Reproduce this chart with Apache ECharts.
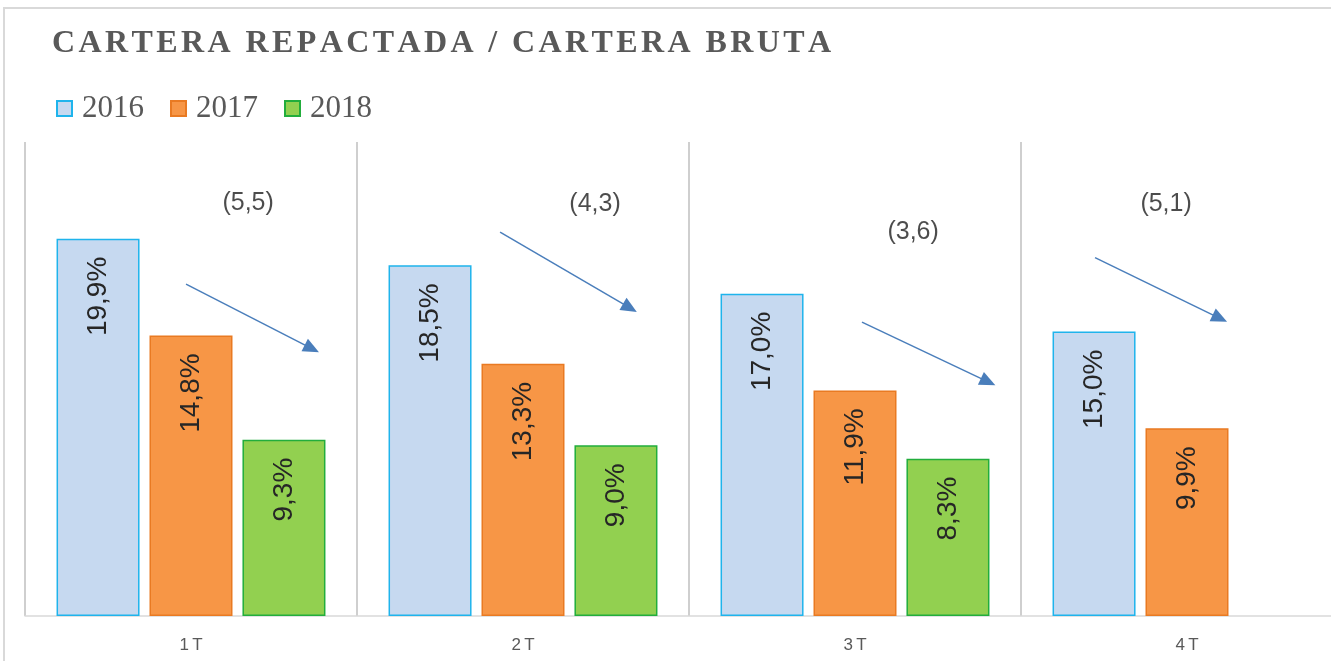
<!DOCTYPE html>
<html>
<head>
<meta charset="utf-8">
<script src="https://cdn.jsdelivr.net/npm/echarts@6/dist/echarts.min.js"></script>
<style>
  html, body { margin: 0; padding: 0; background: #fff; }
  #frame { position: absolute; left: 3px; top: 7px; width: 1340px; height: 670px;
           border-left: 2px solid #d9d9d9; border-top: 2px solid #d9d9d9; }
  #main { position: absolute; left: 0; top: 0; width: 1331px; height: 661px; }
</style>
</head>
<body>
<div id="frame"></div>
<div id="main"></div>
<script>
(function() {

    // datos
    var quarters = ['1T', '2T', '3T', '4T'];
    var years = ['2016', '2017', '2018'];
    var v2016 = [19.9, 18.5, 17.0, 15.0];
    var v2017 = [14.8, 13.3, 11.9, 9.9];
    var v2018 = [9.3, 9.0, 8.3, null];

    // anotaciones (variación en puntos), en eje auxiliar 0..4
    var noteText = ['(5,5)', '(4,3)', '(3,6)', '(5,1)'];
    var noteX = [0.672, 1.717, 2.675, 3.437];
    var noteY = [21.8, 21.7, 20.25, 21.7];
    var arrowFrom = [[0.485, 17.5], [1.431, 20.25], [2.521, 15.5], [3.223, 18.9]];
    var arrowTo = [[0.864, 14.1], [1.822, 16.25], [2.901, 12.35], [3.599, 15.7]];

    var titleText = 'CARTERA REPACTADA / CARTERA BRUTA';

    var colors = {
        fill: ['#c6d9f0', '#f79646', '#92d050'],
        border: ['#1fb4ec', '#e97a22', '#22ad3c']
    };

    var fmt = function(v) {
        return v.toFixed(1).replace('.', ',') + '%';
    };

    // espaciado entre letras del título
    var spaced = function(s) {
        return s.split('').map(function(c) { return '{l|' + c + '}'; }).join('');
    };

    var barSeries = function(name, data, i) {
        return {
            name: name,
            type: 'bar',
            data: data,
            barGap: '12%',
            barCategoryGap: '19%',
            itemStyle: {
                color: colors.fill[i],
                borderColor: colors.border[i],
                borderWidth: 1.5
            },
            label: {
                show: true,
                position: 'insideTop',
                rotate: 90,
                align: 'right',
                verticalAlign: 'middle',
                distance: 18,
                fontSize: 28,
                fontFamily: '"Liberation Sans Narrow", "Liberation Sans"',
                color: '#262626',
                formatter: function(p) { return fmt(p.value); }
            }
        };
    };

    var notes = [];
    var arrows = [];
    for (var k = 0; k < noteText.length; k++) {
        notes.push({ value: [noteX[k], noteY[k]], name: noteText[k] });
        arrows.push([{ coord: arrowFrom[k] }, { coord: arrowTo[k] }]);
    }

    var myChart = echarts.init(document.getElementById('main'), null, { renderer: 'canvas' });

    var option = {
        backgroundColor: 'transparent',
        animation: false,
        title: {
            text: spaced(titleText),
            left: 52,
            top: 28,
            padding: 0,
            textStyle: {
                rich: {
                    l: {
                        fontFamily: 'Liberation Serif',
                        fontWeight: 'bold',
                        fontSize: 32,
                        color: '#595959',
                        padding: [0, 3.4, 0, 0]
                    }
                }
            }
        },
        legend: {
            data: years,
            left: 56,
            top: 93,
            padding: 0,
            icon: 'rect',
            itemWidth: 15,
            itemHeight: 15,
            itemGap: 26,
            textStyle: {
                fontFamily: 'Liberation Serif',
                fontSize: 31,
                color: '#595959',
                padding: [0, 0, 0, 5]
            }
        },
        grid: {
            left: 25,
            right: -22,
            top: 142,
            bottom: 45,
            outerBoundsMode: 'none'
        },
        xAxis: [{
            type: 'category',
            data: quarters,
            axisLine: { lineStyle: { color: '#d9d9d9', width: 1.5 } },
            axisTick: { show: false },
            axisLabel: {
                margin: 21,
                fontSize: 17,
                fontFamily: 'Liberation Sans',
                color: '#595959',
                formatter: function(v) { return v.split('').join('\u2009'); }
            },
            splitLine: { show: true, lineStyle: { color: '#bfbfbf', width: 1.5 } }
        }, {
            type: 'value',
            min: 0,
            max: 4,
            show: false
        }],
        yAxis: {
            type: 'value',
            min: 0,
            max: 25,
            show: false
        },
        series: [
            barSeries(years[0], v2016, 0),
            barSeries(years[1], v2017, 1),
            barSeries(years[2], v2018, 2),
            {
                name: 'notas',
                type: 'scatter',
                xAxisIndex: 1,
                yAxisIndex: 0,
                symbolSize: 0,
                data: notes,
                label: {
                    show: true,
                    position: 'inside',
                    fontSize: 25,
                    fontFamily: 'Liberation Sans',
                    color: '#1f1f1f',
                    formatter: function(p) { return p.name; }
                },
                markLine: {
                    silent: true,
                    symbol: ['none', 'triangle'],
                    symbolSize: [14, 16],
                    label: { show: false },
                    lineStyle: { color: '#4a7ebb', width: 1.5, type: 'solid' },
                    data: arrows
                }
            }
        ]
    };
    myChart.setOption(option);

})();
</script>
</body>
</html>
